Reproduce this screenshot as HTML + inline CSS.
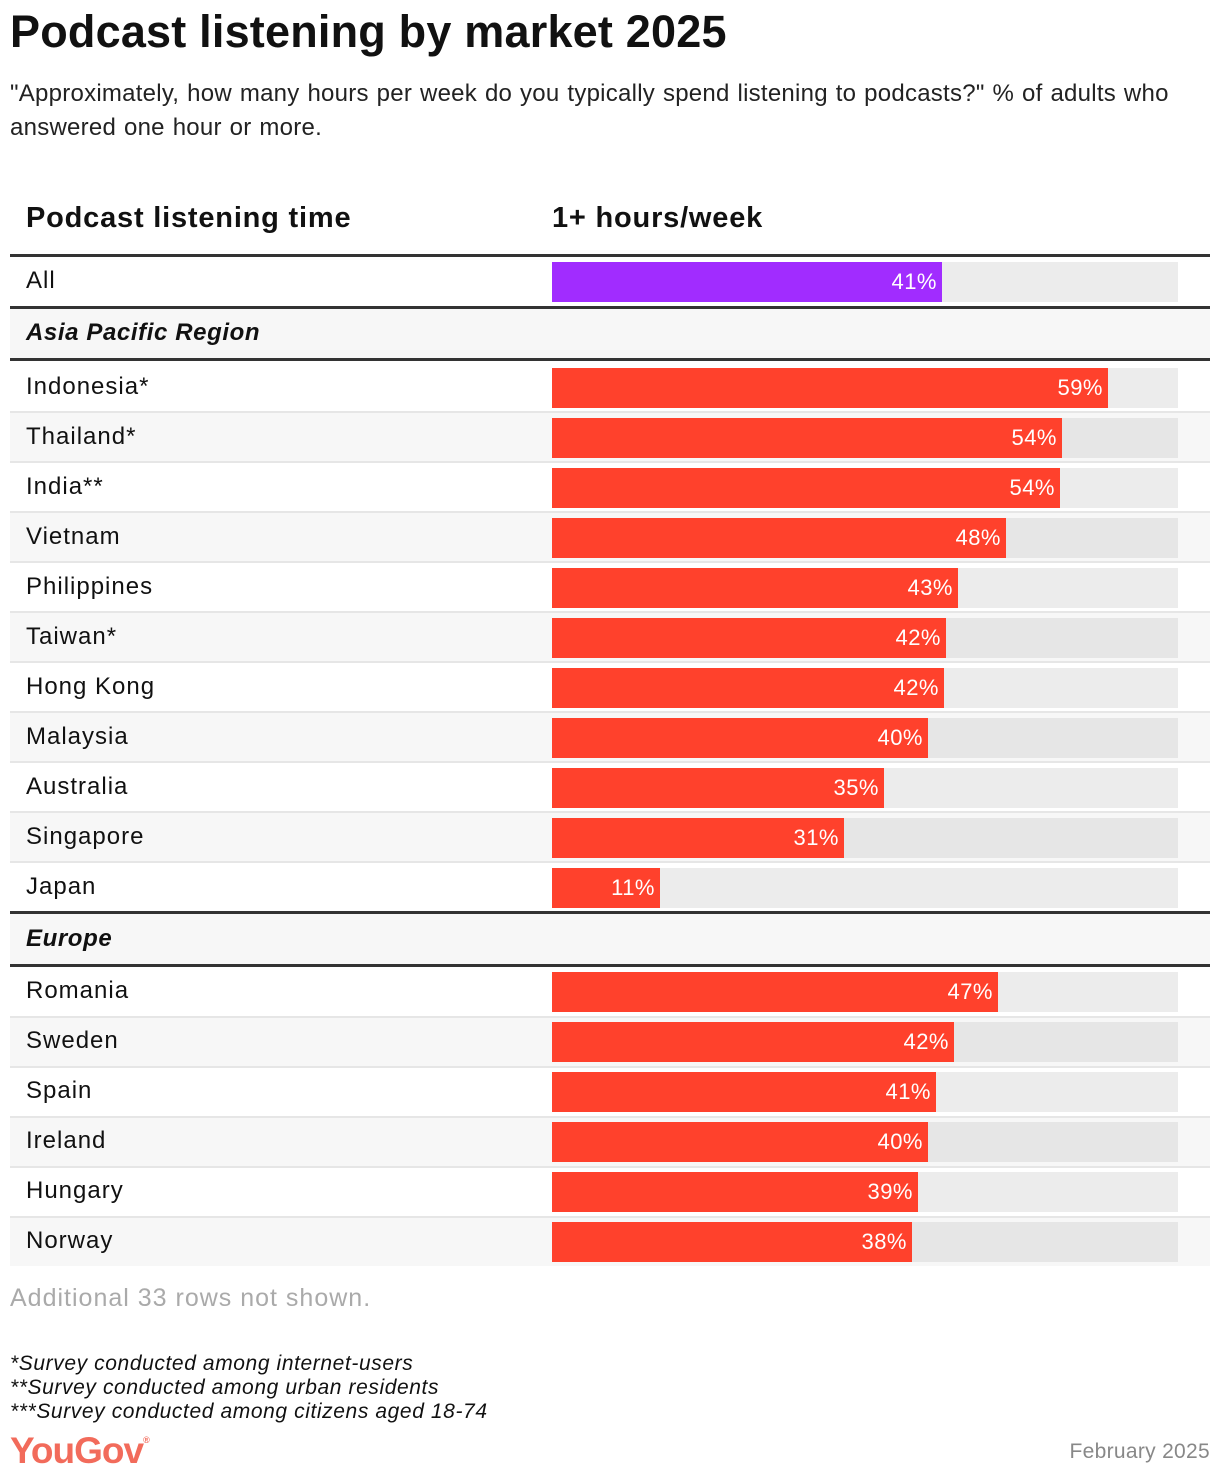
<!DOCTYPE html>
<html><head><meta charset="utf-8"><style>
body{margin:0;width:1220px;height:1482px;background:#fff;font-family:"Liberation Sans",sans-serif;color:#111;position:relative;overflow:hidden}
div{position:absolute}
.t{left:10px;top:6px;font-size:45px;font-weight:bold;letter-spacing:0.2px;white-space:nowrap}
.s{left:10px;top:77px;font-size:24px;line-height:34px;width:1200px;color:#222;letter-spacing:0.25px;word-spacing:1px}
.h{top:202px;font-size:29px;font-weight:bold;letter-spacing:0.8px}
.thick{left:10px;width:1200px;height:3px;background:#333}
.row{left:10px;width:1200px;height:50px}
.sep{left:10px;width:1200px;height:2px;background:#e6e6e6}
.lab{left:26px;font-size:24px;line-height:50px;white-space:nowrap;letter-spacing:1px;top:0}
.grp{left:26px;font-size:24px;line-height:50px;font-weight:bold;font-style:italic;letter-spacing:0.6px}
.track{left:552px;width:626px;height:40px}
.bar{left:552px;height:40px;background:#ff412c;color:#fff;font-size:22px;line-height:40px;text-align:right;box-sizing:border-box;padding-right:5px;letter-spacing:0.5px}
.foot{left:10px;font-size:21px;font-style:italic;line-height:24px;color:#111;letter-spacing:0.6px}
</style></head><body>
<div class="t">Podcast listening by market 2025</div>
<div class="s">"Approximately, how many hours per week do you typically spend listening to podcasts?" % of adults who answered one hour or more.</div>
<div class="h" style="left:26px">Podcast listening time</div>
<div class="h" style="left:552px">1+ hours/week</div>

<div class="thick" style="top:254px"></div>
<div class="lab" style="top:256px">All</div>
<div class="track" style="top:262px;background:#ececec"></div>
<div class="bar" style="top:262px;width:390px;background:#a12cff">41%</div>
<div class="thick" style="top:306px"></div>
<div class="row" style="top:309px;background:#f7f7f7"></div>
<div class="grp" style="top:308px">Asia Pacific Region</div>
<div class="thick" style="top:358px"></div>

<div class="row" style="top:411px;background:#f7f7f7"></div>
<div class="row" style="top:511px;background:#f7f7f7"></div>
<div class="row" style="top:611px;background:#f7f7f7"></div>
<div class="row" style="top:711px;background:#f7f7f7"></div>
<div class="row" style="top:811px;background:#f7f7f7"></div>
<div class="sep" style="top:411px"></div><div class="sep" style="top:461px"></div><div class="sep" style="top:511px"></div><div class="sep" style="top:561px"></div><div class="sep" style="top:611px"></div><div class="sep" style="top:661px"></div><div class="sep" style="top:711px"></div><div class="sep" style="top:761px"></div><div class="sep" style="top:811px"></div><div class="sep" style="top:861px"></div>

<div class="lab" style="top:362px">Indonesia*</div><div class="track" style="top:368px;background:#ececec"></div><div class="bar" style="top:368px;width:556px">59%</div>
<div class="lab" style="top:412px">Thailand*</div><div class="track" style="top:418px;background:#e6e6e6"></div><div class="bar" style="top:418px;width:510px">54%</div>
<div class="lab" style="top:462px">India**</div><div class="track" style="top:468px;background:#ececec"></div><div class="bar" style="top:468px;width:508px">54%</div>
<div class="lab" style="top:512px">Vietnam</div><div class="track" style="top:518px;background:#e6e6e6"></div><div class="bar" style="top:518px;width:454px">48%</div>
<div class="lab" style="top:562px">Philippines</div><div class="track" style="top:568px;background:#ececec"></div><div class="bar" style="top:568px;width:406px">43%</div>
<div class="lab" style="top:612px">Taiwan*</div><div class="track" style="top:618px;background:#e6e6e6"></div><div class="bar" style="top:618px;width:394px">42%</div>
<div class="lab" style="top:662px">Hong Kong</div><div class="track" style="top:668px;background:#ececec"></div><div class="bar" style="top:668px;width:392px">42%</div>
<div class="lab" style="top:712px">Malaysia</div><div class="track" style="top:718px;background:#e6e6e6"></div><div class="bar" style="top:718px;width:376px">40%</div>
<div class="lab" style="top:762px">Australia</div><div class="track" style="top:768px;background:#ececec"></div><div class="bar" style="top:768px;width:332px">35%</div>
<div class="lab" style="top:812px">Singapore</div><div class="track" style="top:818px;background:#e6e6e6"></div><div class="bar" style="top:818px;width:292px">31%</div>
<div class="lab" style="top:862px">Japan</div><div class="track" style="top:868px;background:#ececec"></div><div class="bar" style="top:868px;width:108px">11%</div>

<div class="thick" style="top:911px"></div>
<div class="row" style="top:914px;background:#f7f7f7"></div>
<div class="grp" style="top:914px">Europe</div>
<div class="thick" style="top:964px"></div>

<div class="row" style="top:1016px;background:#f7f7f7"></div>
<div class="row" style="top:1116px;background:#f7f7f7"></div>
<div class="row" style="top:1216px;background:#f7f7f7"></div>
<div class="sep" style="top:1016px"></div><div class="sep" style="top:1066px"></div><div class="sep" style="top:1116px"></div><div class="sep" style="top:1166px"></div><div class="sep" style="top:1216px"></div>

<div class="lab" style="top:966px">Romania</div><div class="track" style="top:972px;background:#ececec"></div><div class="bar" style="top:972px;width:446px">47%</div>
<div class="lab" style="top:1016px">Sweden</div><div class="track" style="top:1022px;background:#e6e6e6"></div><div class="bar" style="top:1022px;width:402px">42%</div>
<div class="lab" style="top:1066px">Spain</div><div class="track" style="top:1072px;background:#ececec"></div><div class="bar" style="top:1072px;width:384px">41%</div>
<div class="lab" style="top:1116px">Ireland</div><div class="track" style="top:1122px;background:#e6e6e6"></div><div class="bar" style="top:1122px;width:376px">40%</div>
<div class="lab" style="top:1166px">Hungary</div><div class="track" style="top:1172px;background:#ececec"></div><div class="bar" style="top:1172px;width:366px">39%</div>
<div class="lab" style="top:1216px">Norway</div><div class="track" style="top:1222px;background:#e6e6e6"></div><div class="bar" style="top:1222px;width:360px">38%</div>

<div style="left:10px;top:1284px;font-size:25px;color:#aaa;letter-spacing:1px">Additional 33 rows not shown.</div>
<div class="foot" style="top:1352px">*Survey conducted among internet-users<br>**Survey conducted among urban residents<br>***Survey conducted among citizens aged 18-74</div>
<div style="left:10px;top:1430px;font-size:37px;font-weight:bold;color:#f26b5b;letter-spacing:-1px;line-height:42px">YouGov<span style="font-size:9px;vertical-align:top;letter-spacing:0;line-height:20px">®</span></div>
<div style="right:10px;top:1440px;font-size:21px;color:#888;letter-spacing:0.3px">February 2025</div>
</body></html>
